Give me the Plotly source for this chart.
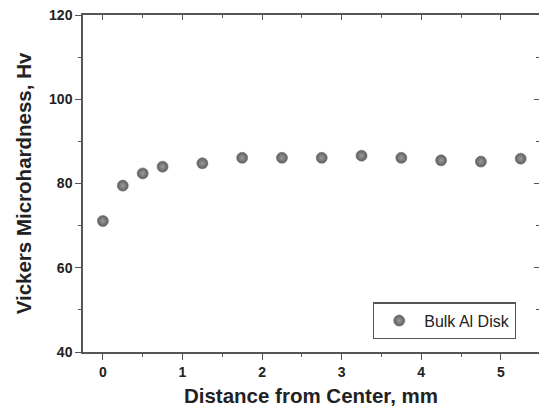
import plotly.graph_objects as go

distance_mm = [0, 0.25, 0.5, 0.75, 1.25, 1.75, 2.25, 2.75, 3.25, 3.75, 4.25, 4.75, 5.25]
hardness_hv = [71.1, 79.5, 82.4, 84.0, 84.8, 86.1, 86.1, 86.1, 86.6, 86.1, 85.5, 85.2, 85.9]
series_name = "Bulk Al Disk"
x_ticks = [0, 1, 2, 3, 4, 5]
y_ticks = [40, 60, 80, 100, 120]

axcol = "#555555"
txtcol = "#222222"
fam = "Liberation Sans, Arial, sans-serif"

fig = go.Figure()
fig.add_trace(go.Scatter(
    x=distance_mm, y=hardness_hv, mode="markers", name=series_name,
    marker=dict(size=11, color="#5f5f5f",
                gradient=dict(type="radial", color="#9a9a9a"),
                line=dict(width=0.6, color="#6a6a6a")),
))
# invisible trace to anchor the mirrored (top/right) axes
fig.add_trace(go.Scatter(x=[distance_mm[0]], y=[hardness_hv[0]], xaxis="x2", yaxis="y2",
                         mode="markers", marker=dict(opacity=0), showlegend=False, hoverinfo="skip"))

xr = [-0.25, 5.48]
yr = [40, 120]

fig.update_layout(
    width=539, height=408,
    margin=dict(l=83, r=0, t=15, b=56),
    paper_bgcolor="white", plot_bgcolor="white",
    font=dict(family=fam, color=txtcol),
    showlegend=True,
    legend=dict(x=0.636, y=0.092, xanchor="left", yanchor="middle",
                bordercolor=axcol, borderwidth=1.2, bgcolor="white", itemwidth=40,
                font=dict(size=16, color=txtcol, family=fam)),
    xaxis=dict(range=xr, tickvals=x_ticks, ticks="outside", ticklen=6, tickwidth=1.2,
               tickcolor=axcol, showline=True, linecolor=axcol, linewidth=1.5,
               showgrid=False, zeroline=False, automargin=False,
               minor=dict(dtick=0.5, ticks="outside", ticklen=3, tickcolor=axcol, showgrid=False),
               tickfont=dict(size=14, weight="bold", color=txtcol),
               title=dict(text="Distance from Center, mm", standoff=10,
                          font=dict(size=20.5, weight="bold", color=txtcol))),
    yaxis=dict(range=yr, tickvals=y_ticks, ticks="outside", ticklen=6, tickwidth=1.2,
               tickcolor=axcol, showline=True, linecolor=axcol, linewidth=1.5,
               showgrid=False, zeroline=False, automargin=False,
               minor=dict(dtick=10, ticks="outside", ticklen=3, tickcolor=axcol, showgrid=False),
               tickfont=dict(size=14, weight="bold", color=txtcol),
               title=dict(text="Vickers Microhardness, Hv", standoff=12,
                          font=dict(size=20.5, weight="bold", color=txtcol))),
    xaxis2=dict(range=xr, overlaying="x", side="top", anchor="y", tickvals=x_ticks,
                ticks="inside", ticklen=5, tickcolor=axcol, showticklabels=False, automargin=False,
                showline=True, linecolor=axcol, linewidth=1.5, showgrid=False, zeroline=False,
                minor=dict(dtick=0.5, ticks="inside", ticklen=3, tickcolor=axcol, showgrid=False)),
    yaxis2=dict(range=yr, overlaying="y", side="right", anchor="x", tickvals=y_ticks,
                ticks="inside", ticklen=5, tickcolor=axcol, showticklabels=False, automargin=False,
                showline=True, linecolor=axcol, linewidth=1.5, showgrid=False, zeroline=False,
                minor=dict(dtick=10, ticks="inside", ticklen=3, tickcolor=axcol, showgrid=False)),
)

fig.write_html("out.html", config={"displayModeBar": False},
               post_script="document.body.style.margin='0';document.body.style.overflow='hidden';")
